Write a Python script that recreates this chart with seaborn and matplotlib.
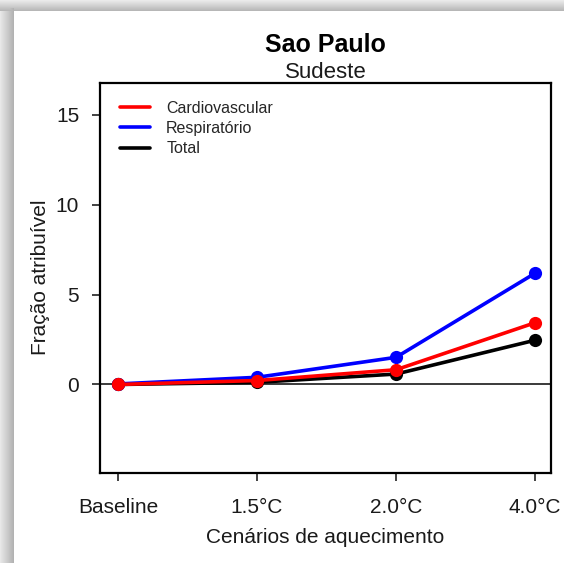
import numpy as np
import pandas as pd
import matplotlib
matplotlib.use("Agg")
import matplotlib.pyplot as plt
from matplotlib.lines import Line2D
import seaborn as sns

# ---- data ----
cenarios = ["Baseline", "1.5°C", "2.0°C", "4.0°C"]
cardiovascular = [0.0, 0.22, 0.82, 3.43]
respiratorio = [0.03, 0.40, 1.51, 6.18]
total = [0.0, 0.12, 0.58, 2.46]
series_names = ["Cardiovascular", "Respiratório", "Total"]
series_colors = ["#FF0000", "#0000FF", "#000000"]
y_ticks = [0, 5, 10, 15]

titulo = "Sao Paulo"
subtitulo = "Sudeste"

pos = np.arange(1, len(cenarios) + 1)
df = pd.DataFrame({
    "pos": np.tile(pos, 3),
    "valor": cardiovascular + respiratorio + total,
    "serie": np.repeat(series_names, len(cenarios)),
})

sns.set_style("ticks")
plt.rcParams["font.family"] = ["Liberation Sans", "DejaVu Sans"]

W, H = 564, 563
fig = plt.figure(figsize=(W / 100, H / 100), dpi=100)
fig.patch.set_facecolor("white")

# window shadow (screenshot frame)
img = np.ones((H, W, 3))
top = np.linspace(0.92, 0.72, 11)
img[:11, :, :] = top[:, None, None]
left = np.linspace(0.91, 0.70, 14)
img[8:, :14, :] = np.minimum(img[8:, :14, :], left[None, :, None])
fig.figimage(img, 0, 0, origin="upper", zorder=-10)

ax = fig.add_axes([100 / W, 1 - 472.5 / H, 451 / W, 390 / H])
ax.set_facecolor("white")
ax.set_zorder(1)

ax.axhline(0, color="#3a3a3a", lw=1.4, zorder=1)

palette = dict(zip(series_names, series_colors))
sns.lineplot(data=df, x="pos", y="valor", hue="serie",
             hue_order=["Total", "Respiratório", "Cardiovascular"],
             palette=palette, marker="o", markersize=9.5,
             markeredgewidth=0, linewidth=2.6, legend=False, ax=ax, zorder=3)

ax.set_xlim(0.87, 4.115)
ax.set_ylim(-4.89, 16.78)
ax.set_xticks(pos)
ax.set_xticklabels(cenarios)
ax.set_yticks(y_ticks)
ax.set_yticklabels([str(t) for t in y_ticks])

for s in ax.spines.values():
    s.set_visible(True)
    s.set_linewidth(1.6)
    s.set_color("black")
ax.tick_params(axis="both", direction="out", length=6, width=1.3, color="#333333",
               labelsize=15, labelcolor="#1a1a1a")
ax.tick_params(axis="x", pad=12.5)
ax.tick_params(axis="y", pad=9)

ax.set_xlabel("Cenários de aquecimento", fontsize=15, color="#1a1a1a")
ax.set_ylabel("Fração atribuível", fontsize=15, color="#1a1a1a")
ax.xaxis.set_label_coords(0.5, -0.142)
ax.yaxis.set_label_coords(-0.11, 0.5)

cx = (100 + 551) / 2 / W
fig.text(cx, 1 - 52 / H, titulo, ha="center", va="baseline",
         fontsize=18, fontweight="bold", color="black")
fig.text(cx, 1 - 78 / H, subtitulo, ha="center", va="baseline",
         fontsize=16, color="#1a1a1a")

handles = [Line2D([0], [0], color=c, lw=2.6) for c in series_colors]
ax.legend(handles, series_names, loc="upper left", bbox_to_anchor=(0.03, 0.97),
          frameon=False, fontsize=11.5, handlelength=1.9, handletextpad=1.0,
          labelspacing=0.34, borderaxespad=0)

fig.savefig("out.png", dpi=100)
